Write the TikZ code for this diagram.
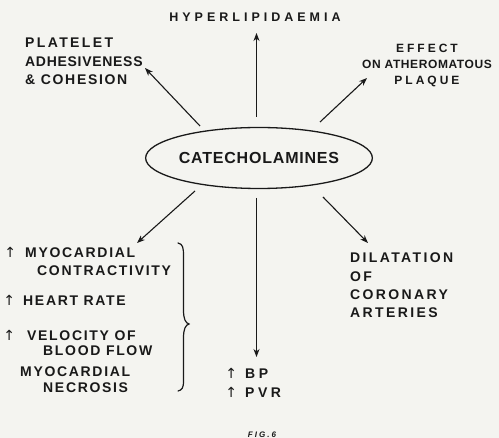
\documentclass[tikz,border=0pt]{standalone}
\usepackage{fontspec}
\setmainfont{Liberation Sans}
\newfontfamily\dv{DejaVu Sans}
\newfontfamily\fsA[LetterSpace=5]{Liberation Sans Bold}
\newfontfamily\fsB[LetterSpace=12]{Liberation Sans Bold}
\newfontfamily\fsC[LetterSpace=17]{Liberation Sans Bold}
\newfontfamily\fsD[LetterSpace=25]{Liberation Sans Bold}
\newfontfamily\fsE[LetterSpace=32]{Liberation Sans Bold}
\newfontfamily\fsI[LetterSpace=25]{Liberation Sans Bold Italic}
\usetikzlibrary{arrows.meta,calc,shapes.geometric}
\definecolor{ink}{RGB}{25,25,25}
\definecolor{paper}{RGB}{244,244,240}
\newcommand{\arw}{\makebox[10pt][c]{\dv\fontsize{14}{14}\selectfont ↑}}
\begin{document}
\begin{tikzpicture}[x=1pt,y=-1pt,
  arr/.style={-{Stealth[length=8pt,width=6pt,inset=2.5pt]}, line width=1.1pt, draw=ink},
  lbl/.style={inner sep=0pt, text=ink, align=left, anchor=north west},
  big/.style={font=\fsB\fontsize{14}{18}\selectfont}]
\fill[paper] (0,0) rectangle (499,438);
\useasboundingbox (0,0) rectangle (499,438);

% central ellipse
\node[draw=ink, line width=1.3pt, ellipse, minimum width=198pt, minimum height=61pt,
      inner sep=0pt, text=ink, font=\fsA\fontsize{16}{18}\selectfont] (cat) at (259,158) {CATECHOLAMINES};

% labels
\node[lbl, anchor=north, font=\fsE\fontsize{12.5}{14}\selectfont] (hyper) at (255,12.5) {HYPERLIPIDAEMIA};
\node[lbl, font=\fsB\fontsize{14}{18.5}\selectfont] (plat) at (25,38) {{\fsC PLATELET}\\{\fsA ADHESIVENESS}\\\& COHESION};
\node[lbl, anchor=north, align=center, font=\fsA\fontsize{12}{16}\selectfont] (eff) at (427,44)
  {{\fsD EFFECT}\\ON ATHEROMATOUS\\{\fsD PLAQUE}};
\node[lbl, font=\fsC\fontsize{14}{18.3}\selectfont] (dil) at (350,253) {DILATATION\\OF\\CORONARY\\ARTERIES};
\node[lbl, font=\fsD\fontsize{14}{19}\selectfont] (bp) at (226,368) {\arw\hspace{9pt}BP\\\arw\hspace{9pt}PVR};

\node[lbl, big] (m1) at (5,247) {\arw\hspace{10pt}MYOCARDIAL\\\hspace*{32pt}CONTRACTIVITY};
\node[lbl, big] (m2) at (4,295) {\arw\hspace{9pt}HEART RATE};
\node[lbl, font=\fsB\fontsize{14}{15.5}\selectfont] (m3) at (4,330) {\arw\hspace{13pt}VELOCITY OF\\\hspace*{39pt}BLOOD FLOW};
\node[lbl, font=\fsB\fontsize{14}{16}\selectfont] (m4) at (20,367) {MYOCARDIAL\\\hspace*{23pt}NECROSIS};

\node[lbl, anchor=center, font=\fsI\fontsize{8}{8}\selectfont] (fig) at (262,434.5) {FIG.6};

% brace
\draw[ink, line width=1.2pt, line cap=round]
  (178,243) .. controls (183,244) and (183.5,248) .. (183.5,256) -- (183.5,310)
  .. controls (183.5,319) and (185.5,323) .. (189,324)
  .. controls (185.5,325) and (183.5,329) .. (183.5,338) -- (183.5,381)
  .. controls (183.5,388) and (182,390) .. (178,391);

% arrow ends
\coordinate (sU) at ($(cat)+(-2.5,-41)$);
\coordinate (sD) at ($(cat)+(-2.5,40)$);
\coordinate (sUL) at ($(cat)+(-59,-32)$);
\coordinate (sUR) at ($(cat)+(61,-36)$);
\coordinate (sLL) at ($(cat)+(-64,33)$);
\coordinate (sLR) at ($(cat)+(64,39)$);
\coordinate (tU) at (256.5,33);
\coordinate (tD) at (256.5,357);
\coordinate (tUL) at (145,68);
\coordinate (tUR) at (367,78);
\coordinate (tLL) at (137,243);
\coordinate (tLR) at (368,243);

\draw[arr] (sU) -- (tU);
\draw[arr] (sD) -- (tD);
\draw[arr] (sUL) -- (tUL);
\draw[arr] (sUR) -- (tUR);
\draw[arr] (sLL) -- (tLL);
\draw[arr] (sLR) -- (tLR);
\end{tikzpicture}
\end{document}
